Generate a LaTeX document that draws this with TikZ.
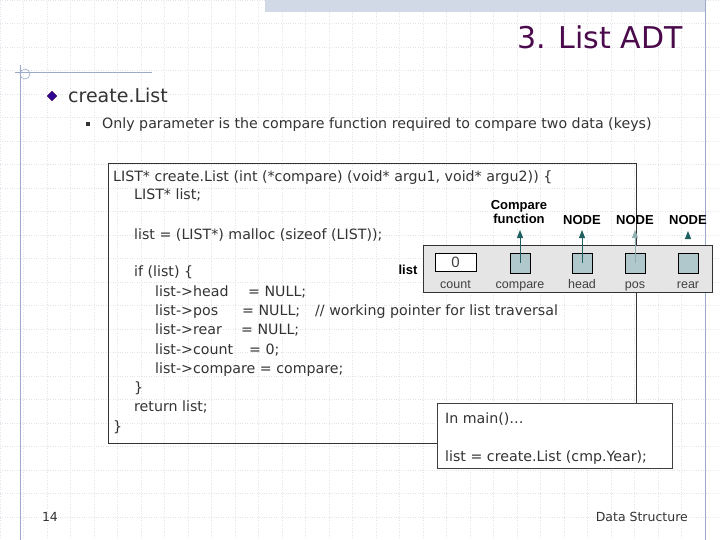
\documentclass[tikz,border=0pt]{standalone}
\usepackage{fontspec}
\setmainfont{DejaVu Sans}
\newfontfamily\arialf{Liberation Sans}
\usetikzlibrary{arrows.meta,patterns}
\definecolor{ttl}{HTML}{4B0A4B}
\definecolor{frame}{HTML}{9AAAC8}
\definecolor{teal1}{HTML}{1F5F5F}
\definecolor{cell}{HTML}{B0C8CC}
\definecolor{gridc}{HTML}{E4E4EC}
\tikzset{
  code/.style={anchor=base west,inner sep=0pt,font=\fontsize{14.2}{15}\selectfont,text=black!80},
  cellbox/.style={draw=black,fill=cell,minimum width=20pt,minimum height=20pt,inner sep=0pt},
  lab/.style={anchor=base,inner sep=0pt,font=\arialf\fontsize{12.5}{12}\selectfont,text=black!75},
  hdr/.style={inner sep=0pt,font=\arialf\bfseries\fontsize{13}{14}\selectfont,align=center},
  arr/.style={draw=teal1,line width=1pt,-{Triangle[length=8pt,width=6pt]}}
}
\begin{document}
\begin{tikzpicture}[x=1pt,y=-1pt]
\useasboundingbox (0,0) rectangle (720,540);
\fill[white] (0,0) rectangle (720,540);
\draw[gridc,dotted,step=23.5pt] (0,0) grid (720,540);
\fill[frame!45] (265,0) rectangle (705,12);
\draw[frame,line width=0.8pt] (705,0) -- (705,540);
\draw[frame,line width=0.8pt] (15,72) -- (152,72);
\draw[frame,line width=0.8pt] (20,65) -- (20,540);
\draw[frame,line width=0.6pt] (25,74) circle[radius=5];
\node[anchor=base east,inner sep=0pt,text=ttl,font=\fontsize{30}{30}\selectfont] (title) at (683,49) {3. List ADT};
\node[fill=ttl!60!blue,draw=ttl,shape=rectangle,rotate=45,minimum size=7pt,inner sep=0pt] (dia) at (52,96) {};
\node[anchor=base west,inner sep=0pt,font=\fontsize{19}{19}\selectfont,text=black!80] (cl) at (68,103) {create.List};
\node[fill=black!80,minimum size=4.5pt,inner sep=0pt] (sq) at (88,124) {};
\node[anchor=base west,inner sep=0pt,font=\fontsize{14.2}{15}\selectfont,text=black!80] (only) at (102,129) {Only parameter is the compare function required to compare two data (keys)};
% code box
\draw[black!80,line width=0.8pt] (108,163) rectangle (636,443);
\node[code] (l1) at (113,182) {LIST* create.List (int (*compare) (void* argu1, void* argu2)) \{};
\node[code] (l2) at (134,200) {LIST* list;};
\node[code] (l3) at (134,240) {list = (LIST*) malloc (sizeof (LIST));};
\node[code] (l4) at (134,276) {if (list) \{};
\node[code] (l5) at (155,296) {list->head};
\node[code] (l5b) at (248,296) {= NULL;};
\node[code] (l6) at (155,315) {list->pos};
\node[code] (l6b) at (242,315) {= NULL;};
\node[code] (l6c) at (315,315) {// working pointer for list traversal};
\node[code] (l7) at (155,334) {list->rear};
\node[code] (l7b) at (241,334) {= NULL;};
\node[code] (l8) at (155,354) {list->count};
\node[code] (l8b) at (249,354) {= 0;};
\node[code] (l9) at (155,373) {list->compare = compare;};
\node[code] (l10) at (134,392) {\}};
\node[code] (l11) at (134,411) {return list;};
\node[code] (l12) at (113,431) {\}};
% struct
\draw[black!80,fill=black!10,line width=0.8pt] (423,245) rectangle (712,292);
\node[inner sep=0pt,font=\arialf\bfseries\fontsize{13}{12}\selectfont] (lst) at (408,270) {list};
\node[draw=black,fill=white,minimum width=41pt,minimum height=18pt,inner sep=0pt,font=\arialf\fontsize{15}{15}\selectfont,text=black!75] (cnt) at (455.5,262) {0};
\node[cellbox] (cmp) at (520,263) {};
\node[cellbox] (hd) at (582,263) {};
\node[cellbox] (ps) at (635,263) {};
\node[cellbox] (rr) at (688,263) {};
\node[lab] at (455.5,288) {count};
\node[lab] at (520,288) {compare};
\node[lab] at (582,288) {head};
\node[lab] at (635,288) {pos};
\node[lab] at (688,288) {rear};
\node[hdr] (hc) at (519,212) {Compare\\function};
\node[hdr] (n1) at (582,220) {NODE};
\node[hdr] (n2) at (635,220) {NODE};
\node[hdr] (n3) at (688,220) {NODE};
\draw[arr] (cmp.center) -- (520,230);
\draw[arr] (hd.center) -- (582,230);
\draw[arr,draw=teal1!50,line width=0.7pt] (ps.center) -- (635,230);
\draw[arr] (688,236) -- (688,231);
% main box
\draw[black!75,fill=white,line width=0.8pt] (437,403) rectangle (672,468);
\node[code] (m1) at (445,423) {In main()…};
\node[code] (m2) at (445,461) {list = create.List (cmp.Year);};
% footer
\node[anchor=base,inner sep=0pt,font=\fontsize{12.5}{13}\selectfont,text=black!80] (pg) at (50,521) {14};
\node[anchor=base east,inner sep=0pt,font=\fontsize{12.5}{13}\selectfont,text=black!80] (ds) at (688,521) {Data Structure};
\end{tikzpicture}
\end{document}
